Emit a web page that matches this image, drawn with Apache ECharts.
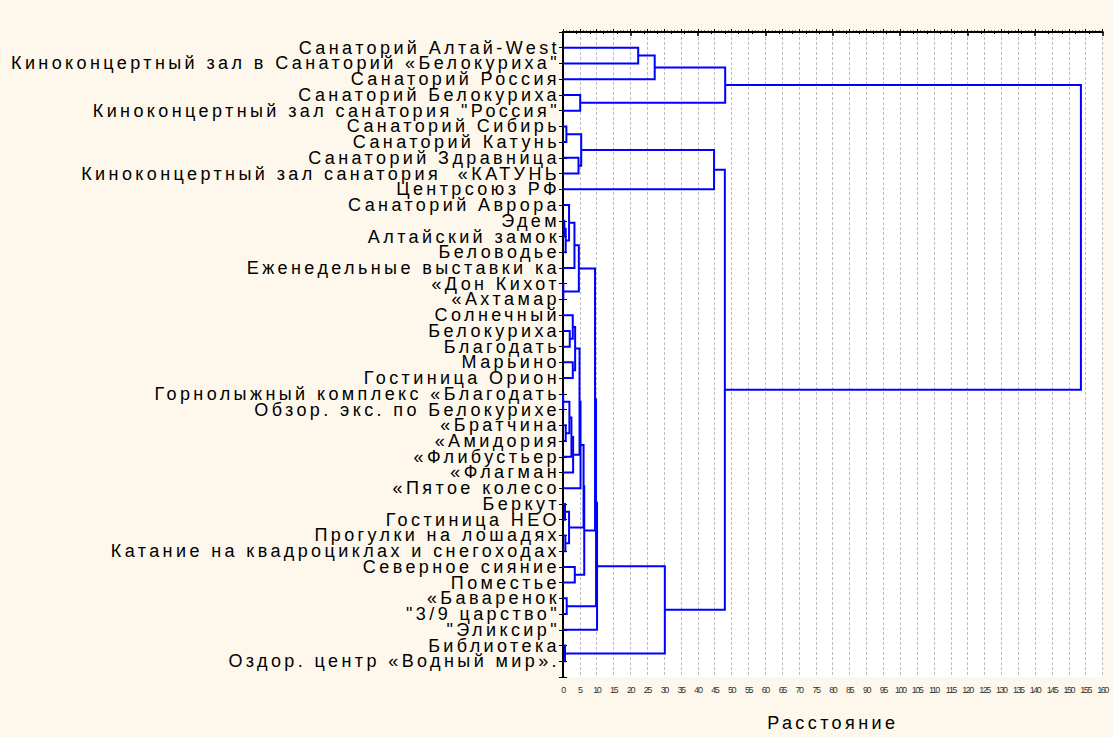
<!DOCTYPE html>
<html>
<head>
<meta charset="utf-8">
<script src="https://cdn.jsdelivr.net/npm/echarts@6/dist/echarts.min.js"></script>
<style>
html, body { margin: 0; padding: 0; background: #fdf8eb; }
#chart { width: 1113px; height: 737px; }
#chart text[style*="18px"] { letter-spacing: 3.4px; }
#chart text[style*="9px"] { letter-spacing: -1.5px; }
</style>
</head>
<body>
<div id="chart"></div>
<script>
// Leaves, top to bottom
const leafNames = [
  'Санаторий Алтай-West',
  'Киноконцертный зал в Санаторий «Белокуриха"',
  'Санаторий Россия',
  'Санаторий Белокуриха',
  'Киноконцертный зал санатория "Россия"',
  'Санаторий Сибирь',
  'Санаторий Катунь',
  'Санаторий Здравница',
  'Киноконцертный зал санатория  «КАТУНЬ',
  'Центрсоюз РФ',
  'Санаторий Аврора',
  'Эдем',
  'Алтайский замок',
  'Беловодье',
  'Еженедельные выставки ка',
  '«Дон Кихот',
  '«Ахтамар',
  'Солнечный',
  'Белокуриха',
  'Благодать',
  'Марьино',
  'Гостиница Орион',
  'Горнолыжный комплекс «Благодать',
  'Обзор. экс. по Белокурихе',
  '«Братчина',
  '«Амидория',
  '«Флибустьер',
  '«Флагман',
  '«Пятое колесо',
  'Беркут',
  'Гостиница НЕО',
  'Прогулки на лошадях',
  'Катание на квадроциклах и снегоходах',
  'Северное сияние',
  'Поместье',
  '«Баваренок',
  '"3/9 царство"',
  '"Эликсир"',
  'Библиотека',
  'Оздор. центр «Водный мир».'
];

// Merge steps: nodes 1..40 are leaves, node 41+k is created by step k
const mergeA = [1, 41, 4, 42, 6, 8, 45, 47, 12, 49, 11, 51, 16, 52, 19, 18, 21, 56, 23, 25, 59, 61, 62, 58, 64, 30, 32, 66, 34, 65, 70, 54, 36, 72, 74, 39, 75, 48, 44];
const mergeB = [2, 3, 5, 43, 7, 9, 46, 10, 13, 14, 50, 15, 17, 53, 20, 55, 22, 57, 24, 26, 60, 27, 28, 63, 29, 31, 33, 67, 35, 68, 69, 71, 37, 73, 38, 40, 76, 77, 78];
const mergeDist = [22.3, 27.2, 5.1, 48.1, 1.0, 4.6, 5.4, 44.8, 0.4, 0.8, 1.8, 3.4, 0.1, 4.7, 2.0, 2.9, 2.9, 3.6, 0.05, 0.8, 1.9, 2.5, 3.0, 4.9, 5.2, 0.6, 0.7, 1.8, 3.5, 6.1, 6.3, 9.5, 1.1, 9.8, 10.1, 0.6, 30.2, 48.0, 153.6];

const xMin = 0, xMax = 160, xStep = 5, xTopStep = 20;

// Tree layout: leaf position = its order, cluster position = midpoint of children
const nodeY = {}, nodeH = {};
leafNames.forEach((n, i) => { nodeY[i + 1] = i + 1; nodeH[i + 1] = 0; });
const links = mergeA.map((a, k) => {
  const b = mergeB[k], id = leafNames.length + 1 + k, d = mergeDist[k];
  nodeY[id] = (nodeY[a] + nodeY[b]) / 2;
  nodeH[id] = d;
  return [nodeH[a], nodeY[a], d, nodeY[b], nodeH[b]];
});

const chart = echarts.init(document.getElementById('chart'), null, { renderer: 'svg' });
const yCommon = {
  type: 'value', min: 0, max: leafNames.length + 1, interval: 1, inverse: true,
  axisLine: { show: true, lineStyle: { color: '#000', width: 2 } },
  axisTick: { show: true, inside: true, length: 4, lineStyle: { color: '#000', width: 1 } },
  splitLine: { show: false }
};
chart.setOption({
  backgroundColor: '#fdf8eb',
  animation: false,
  grid: { left: 563, right: 6, top: 32, bottom: 57, show: true, backgroundColor: '#ffffff', borderWidth: 0 },
  xAxis: [
    {
      type: 'value', position: 'bottom', min: xMin, max: xMax, interval: xStep,
      name: 'Расстояние', nameLocation: 'middle', nameGap: 37,
      nameTextStyle: { fontSize: 18, color: '#000', fontFamily: 'Liberation Sans' },
      axisLine: { show: true, lineStyle: { color: '#000', width: 2 } },
      axisTick: { show: true, inside: true, length: 3, lineStyle: { color: '#000' } },
      minorTick: { show: true, splitNumber: 5, length: 1.5, lineStyle: { color: '#000' } },
      axisLabel: { fontSize: 9, color: '#333', margin: 8, fontFamily: 'Liberation Sans' },
      splitLine: { show: true, lineStyle: { color: '#bdbdbd', type: [3, 2], width: 1 } }
    },
    {
      type: 'value', position: 'top', min: xMin, max: xMax, interval: xTopStep,
      axisLine: { show: true, lineStyle: { color: '#000', width: 2 } },
      axisTick: { show: true, inside: true, length: 4, lineStyle: { color: '#000', width: 1.5 } },
      minorTick: { show: true, splitNumber: 5, length: 2, lineStyle: { color: '#000' } },
      axisLabel: { show: false },
      splitLine: { show: false }
    }
  ],
  yAxis: [
    Object.assign({}, yCommon, {
      position: 'left',
      axisLabel: {
        show: true, margin: 3, fontSize: 18, lineHeight: 14, color: '#000', fontFamily: 'Liberation Sans',
        formatter: v => leafNames[v - 1] || ''
      }
    }),
    Object.assign({}, yCommon, { position: 'right', axisLabel: { show: false } })
  ],
  series: [{
    type: 'custom',
    xAxisIndex: 0, yAxisIndex: 0,
    data: links,
    encode: { x: [0, 2, 4], y: [1, 3] },
    renderItem: (params, api) => {
      const p1 = api.coord([api.value(0), api.value(1)]);
      const p2 = api.coord([api.value(2), api.value(1)]);
      const p3 = api.coord([api.value(2), api.value(3)]);
      const p4 = api.coord([api.value(4), api.value(3)]);
      return {
        type: 'polyline',
        shape: { points: [p1, p2, p3, p4] },
        style: { stroke: '#0000ff', lineWidth: 2, fill: null }
      };
    }
  }]
});
</script>
</body>
</html>
